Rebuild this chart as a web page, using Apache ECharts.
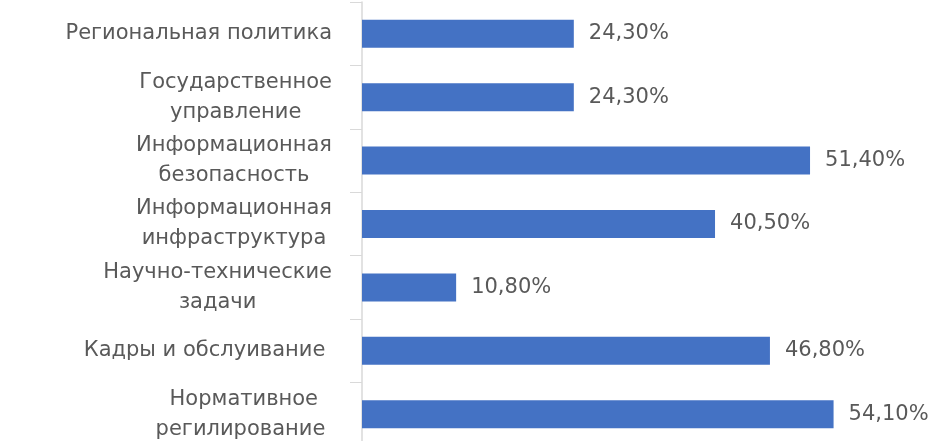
<!DOCTYPE html>
<html>
<head>
<meta charset="utf-8">
<script src="https://cdn.jsdelivr.net/npm/echarts@6/dist/echarts.min.js"></script>
<style>
  html, body { margin: 0; padding: 0; background: #fff; }
  #chart { width: 949px; height: 441px; }
</style>
</head>
<body>
<div id="chart"></div>
<script>
const categories = [
  'Региональная политика',
  'Государственное\nуправление',
  'Информационная\nбезопасность',
  'Информационная\nинфраструктура',
  'Научно-технические\nзадачи',
  'Кадры и обслуивание ',
  'Нормативное\nрегилирование '
];
const shares = [24.3, 24.3, 51.4, 40.5, 10.8, 46.8, 54.1];

const textColor = '#595959';
const barColor = '#4472C4';
const fontFamily = '"DejaVu Sans", sans-serif';

const chart = echarts.init(document.getElementById('chart'));

chart.setOption({
  animation: false,
  backgroundColor: '#ffffff',
  grid: { left: 362, top: 2, width: 523, height: 444, outerBoundsMode: 'none' },
  xAxis: {
    type: 'value',
    min: 0,
    max: 60,
    show: false
  },
  yAxis: {
    type: 'category',
    data: categories,
    inverse: true,
    axisLine: { show: true, lineStyle: { color: '#D9D9D9', width: 1.5 } },
    axisTick: { show: true, length: 12, lineStyle: { color: '#D9D9D9' } },
    axisLabel: {
      margin: 30,
      formatter: (v) => v.split('\n').map((l) => '{c|' + l + '}').join('\n'),
      rich: {
        c: {
          align: 'center',
          color: textColor,
          fontFamily: fontFamily,
          fontSize: 21,
          lineHeight: 30
        }
      }
    }
  },
  series: [
    {
      type: 'bar',
      data: shares,
      barWidth: 28,
      itemStyle: { color: barColor },
      label: {
        show: true,
        position: 'right',
        distance: 15,
        color: textColor,
        fontFamily: fontFamily,
        fontSize: 21,
        formatter: (p) => p.value.toFixed(2).replace('.', ',') + '%'
      }
    }
  ]
});
</script>
</body>
</html>
